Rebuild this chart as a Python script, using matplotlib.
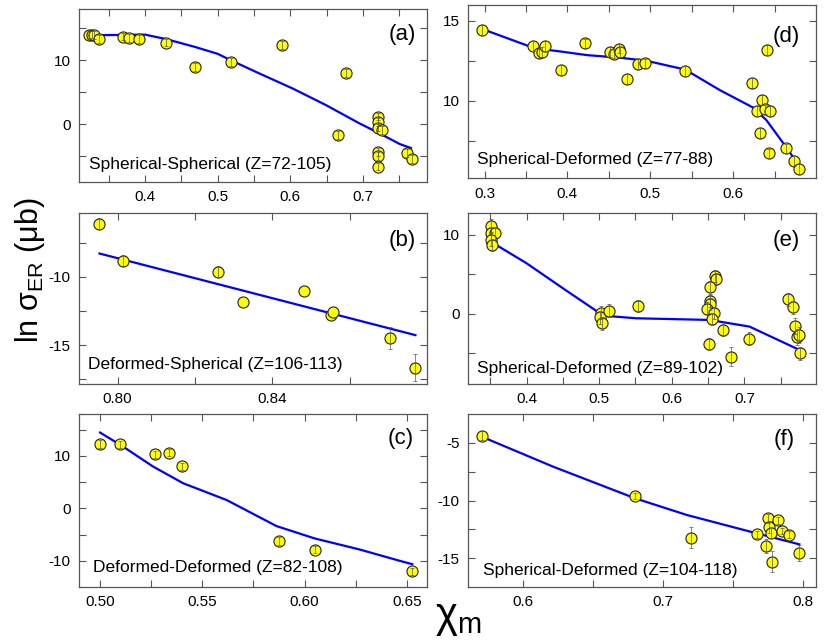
import numpy as np
import matplotlib
matplotlib.use("Agg")
import matplotlib.pyplot as plt
from matplotlib.ticker import FixedLocator, FormatStrFormatter

plt.rcParams['font.family'] = ['Liberation Sans', 'DejaVu Sans']

# ---------------- data ----------------
# (a) Spherical-Spherical
a_x = [0.323, 0.327, 0.329, 0.337, 0.369, 0.378, 0.392, 0.429, 0.468, 0.518, 0.589,
       0.676, 0.665, 0.720, 0.720, 0.720, 0.726, 0.721, 0.721, 0.720, 0.760, 0.768]
a_y = [13.9, 14.0, 13.9, 13.3, 13.7, 13.5, 13.3, 12.75, 8.9, 9.7, 12.4,
       8.0, -1.7, 1.2, 0.35, -0.5, -0.9, -4.3, -4.9, -6.6, -4.5, -5.4]
a_err = [0.6] * 22
a_line_x = [0.323, 0.40, 0.429, 0.468, 0.50, 0.518, 0.558, 0.603, 0.649, 0.695, 0.718, 0.751, 0.766]
a_line_y = [13.9, 14.0, 13.3, 12.1, 11.0, 10.0, 7.9, 5.6, 3.0, 0.15, -1.15, -3.1, -3.7]

# (b) Deformed-Spherical
b_x = [0.7953, 0.8015, 0.826, 0.8325, 0.8483, 0.8551, 0.8557, 0.8704, 0.877]
b_y = [-6.1, -8.83, -9.63, -11.83, -11.02, -12.8, -12.56, -14.46, -16.66]
b_err = [0.4, 0.4, 0.4, np.nan, np.nan, np.nan, np.nan, 0.8, 0.98]
b_line_x = [0.7953, 0.877]
b_line_y = [-8.29, -14.27]

# (c) Deformed-Deformed
c_x = [0.500, 0.5098, 0.527, 0.5337, 0.540, 0.5874, 0.6052, 0.6527]
c_y = [12.3, 12.2, 10.3, 10.6, 8.0, -6.2, -7.9, -12.0]
c_err = [0.7] * 8
c_line_x = [0.500, 0.510, 0.526, 0.5407, 0.5619, 0.5863, 0.605, 0.627, 0.6465, 0.6527]
c_line_y = [14.46, 12.1, 7.96, 4.78, 1.59, -3.38, -5.74, -7.85, -10.0, -10.65]

# (d) Spherical-Deformed (Z=77-88)
d_x = [0.297, 0.358, 0.366, 0.369, 0.373, 0.392, 0.421, 0.451, 0.456, 0.462, 0.463,
       0.472, 0.485, 0.494, 0.542, 0.623, 0.641, 0.635, 0.629, 0.639, 0.645, 0.633,
       0.643, 0.664, 0.673, 0.679]
d_y = [14.42, 13.42, 13.0, 13.06, 13.42, 11.92, 13.59, 13.06, 12.96, 13.27, 13.06,
       11.36, 12.3, 12.34, 11.88, 11.13, 13.2, 10.04, 9.38, 9.46, 9.38, 8.0,
       6.71, 7.02, 6.23, 5.75]
d_err = [0.3] * 26
d_line_x = [0.297, 0.36, 0.39, 0.424, 0.464, 0.496, 0.542, 0.584, 0.624, 0.64, 0.664, 0.679]
d_line_y = [14.5, 13.3, 13.1, 12.86, 12.7, 12.5, 11.96, 10.67, 9.58, 8.8, 7.1, 5.98]

# (e) Spherical-Deformed (Z=89-102)
e_x = [0.351, 0.351, 0.357, 0.351, 0.353, 0.503, 0.501, 0.504, 0.513, 0.554,
       0.659, 0.661, 0.653, 0.653, 0.653, 0.648, 0.658, 0.655, 0.670, 0.651,
       0.681, 0.706, 0.760, 0.767, 0.770, 0.772, 0.775, 0.777]
e_y = [11.18, 10.2, 10.2, 9.37, 8.73, 0.17, -0.42, -1.18, 0.42, 1.01,
       4.81, 4.43, 3.38, 1.65, 1.27, 0.68, 0.13, -0.63, -2.03, -3.8,
       -5.4, -3.12, 1.86, 0.85, -1.48, -2.95, -2.66, -4.98]
e_err = [0.8] * 20 + [1.2, 0.8, 0.8, 0.8, 1.0, 1.0, 1.0, 0.8]
e_line_x = [0.352, 0.400, 0.450, 0.501, 0.510, 0.551, 0.652, 0.707, 0.776]
e_line_y = [9.07, 6.41, 3.25, 0.08, -0.25, -0.55, -0.76, -1.6, -4.56]

# (f) Spherical-Deformed (Z=104-118)
f_x = [0.5703, 0.6798, 0.7196, 0.7667, 0.775, 0.7757, 0.7769, 0.7821, 0.7846, 0.79,
       0.7731, 0.7774, 0.7969]
f_y = [-4.39, -9.61, -13.2, -12.93, -11.55, -12.27, -12.78, -11.69, -12.64, -12.98,
       -13.94, -15.29, -14.51]
f_err = [0.4, 0.3, 0.95, 0.3, 0.4, 0.5, 0.5, 0.3, 0.3, 0.3, 0.6, 0.9, 0.7]
f_line_x = [0.5703, 0.6214, 0.6798, 0.7167, 0.7667, 0.7971]
f_line_y = [-4.48, -7.08, -9.81, -11.25, -12.84, -13.79]

labels = ["Spherical-Spherical (Z=72-105)", "Deformed-Spherical (Z=106-113)",
          "Deformed-Deformed (Z=82-108)", "Spherical-Deformed (Z=77-88)",
          "Spherical-Deformed (Z=89-102)", "Spherical-Deformed (Z=104-118)"]
tags = ["(a)", "(b)", "(c)", "(d)", "(e)", "(f)"]

# ---------------- layout ----------------
W, H = 831, 641
fig = plt.figure(figsize=(W / 100, H / 100), dpi=100)

def add_ax(l, r, t, b):
    return fig.add_axes([l / W, (H - b) / H, (r - l) / W, (b - t) / H])

panels = [
    dict(box=(79, 427, 9, 182), x=a_x, y=a_y, e=a_err, lx=a_line_x, ly=a_line_y,
         xlim=(0.309, 0.788), ylim=(-9, 18),
         xmaj=[0.4, 0.5, 0.6, 0.7], xmin=[0.35, 0.45, 0.55, 0.65, 0.75],
         ymaj=[0, 10], ymin=[-5, 5, 15], xfmt='%.1f',
         tagpos=(0.968, 0.85), labpos=(0.03, 0.104)),
    dict(box=(79, 427, 212.7, 384), x=b_x, y=b_y, e=b_err, lx=b_line_x, ly=b_line_y,
         xlim=(0.79, 0.88), ylim=(-17.85, -5.3),
         xmaj=[0.80, 0.84], xmin=[0.82, 0.86],
         ymaj=[-10, -15], ymin=[-7.5, -12.5, -17.5], xfmt='%.2f',
         tagpos=(0.968, 0.84), labpos=(0.027, 0.115)),
    dict(box=(79, 427, 414, 587), x=c_x, y=c_y, e=c_err, lx=c_line_x, ly=c_line_y,
         xlim=(0.4897, 0.6599), ylim=(-15, 18),
         xmaj=[0.50, 0.55, 0.60, 0.65], xmin=[0.525, 0.575, 0.625],
         ymaj=[-10, 0, 10], ymin=[-5, 5, 15], xfmt='%.2f',
         tagpos=(0.961, 0.86), labpos=(0.041, 0.11)),
    dict(box=(468, 816, 5, 178.3), x=d_x, y=d_y, e=d_err, lx=d_line_x, ly=d_line_y,
         xlim=(0.28, 0.70), ylim=(5.15, 16),
         xmaj=[0.3, 0.4, 0.5, 0.6], xmin=[0.35, 0.45, 0.55, 0.65],
         ymaj=[10, 15], ymin=[7.5, 12.5], xfmt='%.1f',
         tagpos=(0.954, 0.82), labpos=(0.027, 0.11)),
    dict(box=(468, 816, 212.7, 384), x=e_x, y=e_y, e=e_err, lx=e_line_x, ly=e_line_y,
         xlim=(0.3194, 0.7986), ylim=(-8.86, 12.8),
         xmaj=[0.4, 0.5, 0.6, 0.7], xmin=[0.35, 0.45, 0.55, 0.65, 0.75],
         ymaj=[0, 10], ymin=[-5, 5], xfmt='%.1f',
         tagpos=(0.954, 0.837), labpos=(0.027, 0.088)),
    dict(box=(468, 816, 414, 587), x=f_x, y=f_y, e=f_err, lx=f_line_x, ly=f_line_y,
         xlim=(0.5605, 0.809), ylim=(-17.48, -2.52),
         xmaj=[0.6, 0.7, 0.8], xmin=[0.65, 0.75],
         ymaj=[-5, -10, -15], ymin=[-7.5, -12.5], xfmt='%.1f',
         tagpos=(0.94, 0.85), labpos=(0.042, 0.098)),
]

for p, lab, tag in zip(panels, labels, tags):
    ax = add_ax(*p['box'])
    ax.plot(p['lx'], p['ly'], color='#0000ff', lw=1.6, zorder=2)
    ax.plot(p['x'], p['y'], 'o', ms=8.0, mfc='#ffff00', mec='#222222', mew=0.8,
            linestyle='none', zorder=3)
    ax.errorbar(p['x'], p['y'], yerr=p['e'], fmt='none', ecolor='#555555',
                elinewidth=0.5, capsize=1.6, capthick=0.5, zorder=4)
    ax.set_xlim(*p['xlim'])
    ax.set_ylim(*p['ylim'])
    ax.xaxis.set_major_locator(FixedLocator(p['xmaj']))
    ax.xaxis.set_minor_locator(FixedLocator(p['xmin']))
    ax.yaxis.set_major_locator(FixedLocator(p['ymaj']))
    ax.yaxis.set_minor_locator(FixedLocator(p['ymin']))
    ax.xaxis.set_major_formatter(FormatStrFormatter(p['xfmt']))
    ax.yaxis.set_major_formatter(FormatStrFormatter('%g'))
    ax.tick_params(which='both', direction='in', top=True, right=True,
                   length=5, width=0.8, color='#555555', labelsize=11, pad=6)
    for s in ax.spines.values():
        s.set_color('#555555')
        s.set_linewidth(0.9)
    ax.text(*p['tagpos'], tag, transform=ax.transAxes, ha='right', va='center',
            fontsize=16)
    ax.text(*p['labpos'], lab, transform=ax.transAxes, ha='left', va='center',
            fontsize=12.5)

fig.text(30 / W, 1 - 270 / H, r'ln $\mathregular{\sigma_{ER}}$ ($\mathregular{\mu}$b)',
         rotation=90, ha='center', va='center', fontsize=22)
fig.text(458 / W, 1 - 618 / H, r'$\mathregular{\chi_m}$', ha='center', va='center',
         fontsize=30)

fig.savefig('out.png', dpi=100)
